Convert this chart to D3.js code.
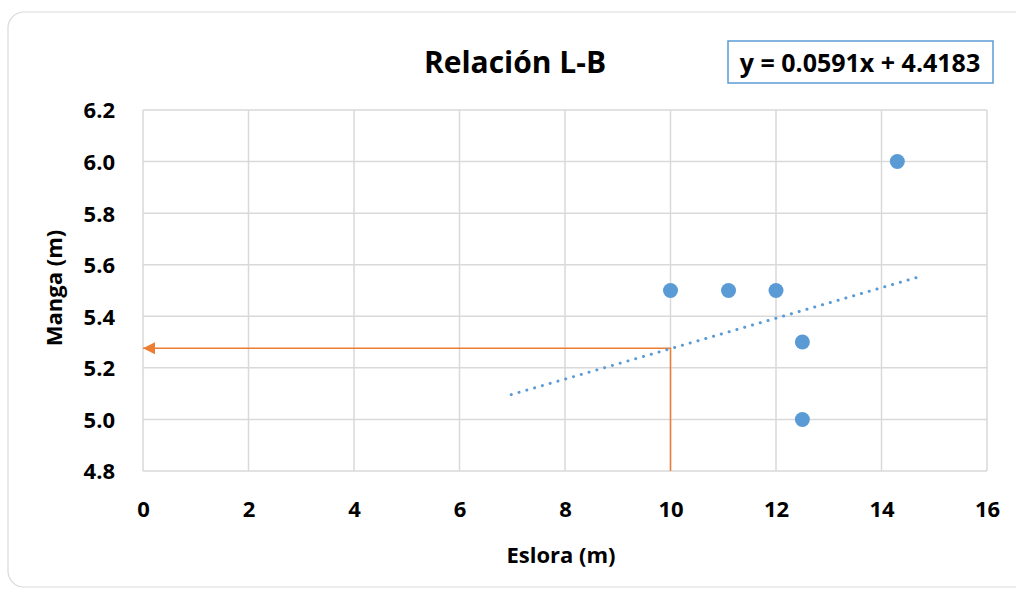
<!DOCTYPE html>
<html>
<head>
<meta charset="utf-8">
<script src="https://cdn.jsdelivr.net/npm/d3@7"></script>
<style>
  body { margin: 0; background: #fff; }
  text { font-family: "Open Sans", Lato, sans-serif; font-weight: bold; fill: #000; }
</style>
</head>
<body>
<svg id="chart" width="1016" height="589"></svg>
<script>
// data
let eslora = [10, 11.1, 12, 14.3, 12.5, 12.5];
let manga = [5.5, 5.5, 5.5, 6.0, 5.3, 5.0];
let trendX = [6.98, 14.68];
let trendY = [5.096, 5.551];
let guideX = [10, 10, 0];
let guideY = [4.8, 5.276, 5.276];
let xTicks = [0, 2, 4, 6, 8, 10, 12, 14, 16];
let yTicks = [4.8, 5.0, 5.2, 5.4, 5.6, 5.8, 6.0, 6.2];
let equation = "y = 0.0591x + 4.4183";

let svg = d3.select("#chart");
let plot = { left: 143, right: 987, top: 110, bottom: 471 };

let x = d3.scaleLinear().domain([0, 16]).range([plot.left, plot.right]);
let y = d3.scaleLinear().domain([4.8, 6.2]).range([plot.bottom, plot.top]);

// outer frame
svg.append("rect")
  .attr("x", 8).attr("y", 12)
  .attr("width", 1030).attr("height", 575)
  .attr("rx", 16)
  .attr("fill", "#fff")
  .attr("stroke", "#d9d9d9")
  .attr("stroke-width", 1.2);

// grid
let grid = svg.append("g").attr("class", "grid");
grid.selectAll("line.v").data(xTicks).enter().append("line")
  .attr("x1", d => x(d)).attr("x2", d => x(d))
  .attr("y1", plot.top).attr("y2", plot.bottom)
  .attr("stroke", "#d9d9d9").attr("stroke-width", 1.5);
grid.selectAll("line.h").data(yTicks).enter().append("line")
  .attr("x1", plot.left).attr("x2", plot.right)
  .attr("y1", d => y(d)).attr("y2", d => y(d))
  .attr("stroke", "#d9d9d9").attr("stroke-width", 1.5);

// axes (labels only)
let xAxis = svg.append("g")
  .attr("transform", `translate(0, ${plot.bottom + 43})`)
  .call(d3.axisBottom(x).tickValues(xTicks).tickSize(0).tickFormat(d3.format("d")));
let yAxis = svg.append("g")
  .attr("transform", `translate(${plot.left - 25}, 0)`)
  .call(d3.axisLeft(y).tickValues(yTicks).tickSize(0).tickFormat(d3.format(".1f")));
[xAxis, yAxis].forEach(a => {
  a.select(".domain").remove();
  a.selectAll("text").attr("font-size", 22).attr("font-family", null);
});
xAxis.selectAll("text").attr("dy", 0);
yAxis.selectAll("text").attr("dy", "0.36em");

// orange guide with arrow
svg.append("defs").append("marker")
  .attr("id", "arrow")
  .attr("viewBox", "0 0 10 10")
  .attr("refX", 10).attr("refY", 5)
  .attr("markerWidth", 14).attr("markerHeight", 12)
  .attr("markerUnits", "userSpaceOnUse")
  .attr("orient", "auto")
  .append("path")
  .attr("d", "M0,0 L10,5 L0,10 Z")
  .attr("fill", "#ed7d31");

let guide = d3.line().x(d => x(d[0])).y(d => y(d[1]));
svg.append("path")
  .datum(d3.zip(guideX, guideY))
  .attr("d", guide)
  .attr("fill", "none")
  .attr("stroke", "#ed7d31")
  .attr("stroke-width", 1.5)
  .attr("marker-end", "url(#arrow)");

// trend line (dotted)
svg.append("path")
  .datum(d3.zip(trendX, trendY))
  .attr("d", guide)
  .attr("fill", "none")
  .attr("stroke", "#5b9bd5")
  .attr("stroke-width", 3)
  .attr("stroke-linecap", "round")
  .attr("stroke-dasharray", "0.1 8");

// points
svg.selectAll("circle.pt")
  .data(d3.zip(eslora, manga))
  .enter().append("circle")
  .attr("class", "pt")
  .attr("cx", d => x(d[0]))
  .attr("cy", d => y(d[1]))
  .attr("r", 7.5)
  .attr("fill", "#5b9bd5");

// title
svg.append("text")
  .attr("x", 515).attr("y", 73)
  .attr("text-anchor", "middle")
  .attr("font-size", 30)
  .text("Relación L-B");

// equation box
svg.append("rect")
  .attr("x", 728).attr("y", 41)
  .attr("width", 265).attr("height", 42)
  .attr("fill", "#fff")
  .attr("stroke", "#5b9bd5")
  .attr("stroke-width", 1.5);
svg.append("text")
  .attr("x", 860).attr("y", 72)
  .attr("text-anchor", "middle")
  .attr("font-size", 25)
  .text(equation);

// axis titles
svg.append("text")
  .attr("x", 561).attr("y", 563)
  .attr("text-anchor", "middle")
  .attr("font-size", 22)
  .text("Eslora (m)");
svg.append("text")
  .attr("transform", "translate(62, 288) rotate(-90)")
  .attr("text-anchor", "middle")
  .attr("font-size", 22)
  .text("Manga (m)");
</script>
</body>
</html>
